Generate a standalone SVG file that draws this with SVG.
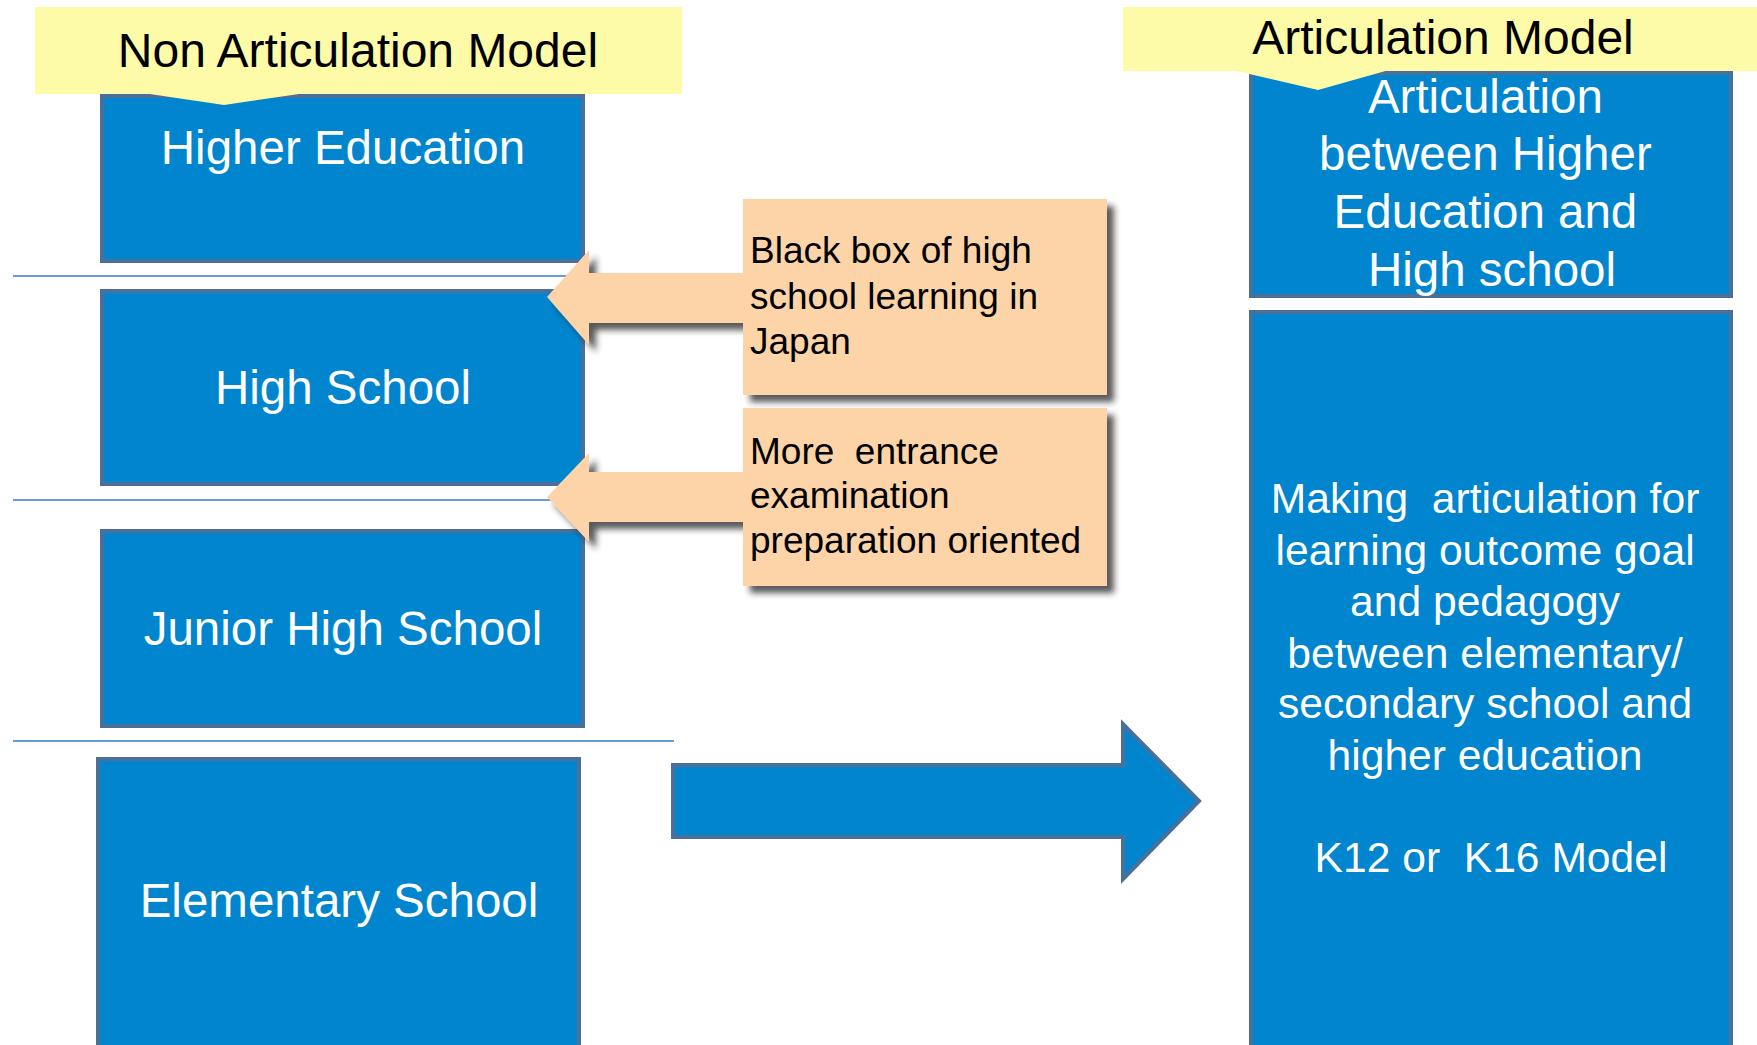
<svg xmlns="http://www.w3.org/2000/svg" width="1757" height="1045" viewBox="0 0 1757 1045">
<defs>
<filter id="sh" x="-10%" y="-10%" width="130%" height="140%">
<feDropShadow dx="7" dy="7" stdDeviation="3" flood-color="#222" flood-opacity="0.75"/>
</filter>
<style>
.blue{fill:#0085CE;stroke:#4A6F99;stroke-width:4}
.yel{fill:#FDFBA8}
.peach{fill:#FDD4A8}
.sep{stroke:#6A9BD1;stroke-width:2;fill:none}
.t{font-family:"Liberation Sans",Arial,sans-serif}
.w{fill:#fff}
.k{fill:#000}
</style>
</defs>
<rect width="1757" height="1045" fill="#fff"/>

<g id="separators">
<line class="sep" x1="13" y1="276" x2="600" y2="276"/>
<line class="sep" x1="13" y1="500" x2="600" y2="500"/>
<line class="sep" x1="13" y1="741" x2="674" y2="741"/>
</g>

<g id="higher-education">
<rect class="blue" x="102" y="96" width="481" height="165"/>
<text class="t w" x="343" y="164" font-size="47.5" text-anchor="middle">Higher Education</text>
</g>
<g id="high-school">
<rect class="blue" x="102" y="291" width="481" height="193"/>
<text class="t w" x="343" y="404" font-size="47.5" text-anchor="middle">High School</text>
</g>
<g id="junior-high-school">
<rect class="blue" x="102" y="531" width="481" height="195"/>
<text class="t w" x="343" y="645" font-size="47.5" text-anchor="middle">Junior High School</text>
</g>
<g id="elementary-school">
<rect class="blue" x="98" y="759" width="481" height="300"/>
<text class="t w" x="339" y="917" font-size="47.5" text-anchor="middle">Elementary School</text>
</g>

<g id="non-articulation-label">
<rect class="yel" x="35" y="7" width="647" height="87"/>
<polygon class="yel" points="143,93 306,93 224,105"/>
<text class="t k" x="358" y="67" font-size="48" text-anchor="middle">Non Articulation Model</text>
</g>

<g id="articulation-box">
<rect class="blue" x="1251" y="73" width="480" height="223"/>
<text class="t w" font-size="47.5" text-anchor="middle">
<tspan x="1492" y="113">Articulation</tspan>
<tspan x="1492" y="170">between Higher</tspan>
<tspan x="1492" y="228">Education and</tspan>
<tspan x="1492" y="286">High school</tspan>
</text>
</g>
<g id="articulation-label">
<rect class="yel" x="1123" y="7" width="640" height="64"/>
<polygon class="yel" points="1232,70 1389,70 1318,90"/>
<text class="t k" x="1443" y="54" font-size="48" text-anchor="middle">Articulation Model</text>
</g>

<g id="k12-box">
<rect class="blue" x="1251" y="312" width="480" height="750"/>
<text class="t w" font-size="42.6" text-anchor="middle">
<tspan x="1491" y="513" xml:space="preserve">Making  articulation for</tspan>
<tspan x="1491" y="565">learning outcome goal</tspan>
<tspan x="1491" y="616">and pedagogy</tspan>
<tspan x="1491" y="668">between elementary/</tspan>
<tspan x="1491" y="718">secondary school and</tspan>
<tspan x="1491" y="770">higher education</tspan>
<tspan x="1491" y="872" xml:space="preserve">K12 or  K16 Model</tspan>
</text>
</g>

<g id="connectors">
<polygon class="blue" points="673,765 1123,765 1123,724 1199,801 1123,879 1123,837 673,837"/>
<polygon class="peach" filter="url(#sh)" points="547,297 589,250 589,273 745,273 745,323 589,323 589,345"/>
<polygon class="peach" filter="url(#sh)" points="547,497 589,453 589,472 745,472 745,522 589,522 589,542"/>
</g>

<g id="black-box-note">
<rect class="peach" filter="url(#sh)" x="743" y="199" width="364" height="196"/>
<text class="t k" font-size="37">
<tspan x="750" y="263">Black box of high</tspan>
<tspan x="750" y="309">school learning in</tspan>
<tspan x="750" y="354">Japan</tspan>
</text>
</g>
<g id="exam-note">
<rect class="peach" filter="url(#sh)" x="743" y="408" width="364" height="178"/>
<text class="t k" font-size="37">
<tspan x="750" y="464" xml:space="preserve">More  entrance</tspan>
<tspan x="750" y="508">examination</tspan>
<tspan x="750" y="553">preparation oriented</tspan>
</text>
</g>
</svg>
